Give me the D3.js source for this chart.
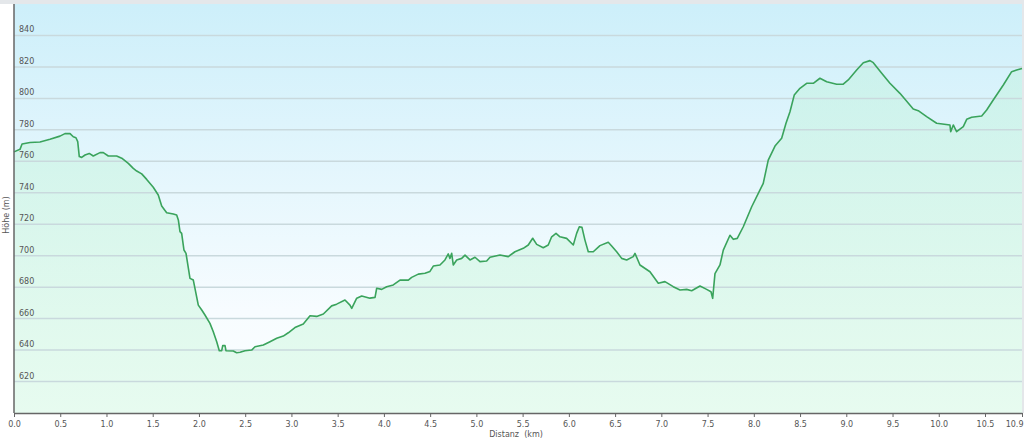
<!DOCTYPE html>
<html>
<head>
<meta charset="utf-8">
<script src="https://cdn.jsdelivr.net/npm/d3@7"></script>
<style>
  body { margin: 0; background: #fff; }
  svg text { font-family: "DejaVu Sans", Verdana, sans-serif; fill: #555; }
</style>
</head>
<body>
<div id="chart"></div>
<script>
// elevation profile
var distKm = [0.00, 0.065, 0.087, 0.173, 0.281, 0.389, 0.497, 0.551, 0.606, 0.641, 0.670, 0.689, 0.706, 0.732, 0.768, 0.814, 0.857, 0.930, 0.966, 1.020,
  1.110, 1.165, 1.236, 1.290, 1.327, 1.381, 1.435, 1.506, 1.560, 1.597, 1.651, 1.723, 1.759, 1.777, 1.795, 1.813, 1.838, 1.860, 1.903, 1.939,
  1.993, 2.030, 2.065, 2.119, 2.155, 2.192, 2.220, 2.246, 2.257, 2.282, 2.292, 2.371, 2.408, 2.444, 2.498, 2.570, 2.606, 2.696, 2.768, 2.841,
  2.912, 2.966, 3.038, 3.128, 3.201, 3.273, 3.345, 3.435, 3.489, 3.579, 3.633, 3.652, 3.706, 3.760, 3.849, 3.904, 3.922, 3.976, 4.030, 4.101,
  4.174, 4.264, 4.300, 4.372, 4.444, 4.498, 4.534, 4.606, 4.660, 4.696, 4.714, 4.733, 4.750, 4.787, 4.841, 4.877, 4.931, 4.985, 5.039, 5.111,
  5.147, 5.255, 5.345, 5.417, 5.507, 5.561, 5.609, 5.652, 5.723, 5.777, 5.814, 5.861, 5.904, 5.976, 6.048, 6.084, 6.113, 6.142, 6.174, 6.210,
  6.264, 6.336, 6.426, 6.463, 6.517, 6.571, 6.625, 6.696, 6.715, 6.769, 6.877, 6.967, 7.039, 7.129, 7.202, 7.274, 7.328, 7.418, 7.490, 7.537,
  7.555, 7.580, 7.634, 7.670, 7.742, 7.778, 7.821, 7.886, 7.977, 8.067, 8.102, 8.156, 8.229, 8.301, 8.348, 8.391, 8.437, 8.499, 8.571, 8.643,
  8.715, 8.788, 8.896, 8.967, 9.021, 9.112, 9.184, 9.256, 9.292, 9.383, 9.472, 9.580, 9.724, 9.778, 9.869, 9.977, 10.121, 10.129, 10.157, 10.193,
  10.265, 10.302, 10.356, 10.464, 10.518, 10.589, 10.698, 10.788, 10.842, 10.90];

var heightM = [766, 767.6, 771, 772, 772.3, 774, 776, 777.6, 777.6, 775.6, 775, 772.5, 763, 762.5, 764, 765, 763.4, 765.5, 765.5, 763.4,
  763.4, 762, 758.7, 755.5, 753.8, 752, 748.5, 743.5, 738.6, 731.6, 727.3, 726.5, 725.9, 722.7, 715.3, 714.2, 703.6, 701.5, 685.6, 684.5,
  668.6, 665.5, 662.3, 657, 651.7, 645.3, 639.6, 639.6, 642.8, 642.8, 639.6, 639.4, 638.3, 638.6, 639.6, 640, 642.1, 643.2, 645.3, 647.5,
  648.9, 651, 654.3, 656.6, 661.8, 661.4, 662.9, 668.1, 669.2, 671.8, 668.6, 666.5, 673, 674.4, 673, 673.5, 679.3, 678.6, 680.3, 681.4,
  684.5, 684.5, 686.2, 688.3, 688.8, 690, 693.4, 694.1, 697.3, 701.1, 698.3, 701.5, 694.1, 697.3, 698.3, 700.4, 697.3, 699, 696.2, 696.6,
  699, 700.4, 699.4, 702.5, 704.7, 706.8, 711.1, 707.2, 705.1, 706.8, 712, 714.2, 712, 711, 706.8, 714.2, 718.4, 718, 709.9, 702.5,
  702.5, 706.4, 708.5, 706.2, 702.5, 698.3, 697.3, 699.4, 701.5, 694.1, 689.8, 682.5, 683.5, 680.3, 678.2, 678.6, 677.7, 680.7, 678.6, 677.1,
  672.9, 688.6, 694.1, 703.5, 713, 710.4, 711, 718.4, 731.1, 741.8, 746, 760.8, 769.7, 774.6, 784.2, 791.5, 802.1, 806.4, 809.6, 809.6,
  812.8, 810.6, 809, 809, 811.7, 818, 822.7, 824, 822.7, 816, 809.6, 803.2, 793.2, 792.2, 788.4, 784.2, 783.1, 778.8, 783.1, 778.8,
  782, 786.7, 788, 788.8, 792.6, 799, 808.5, 817, 818, 819];

var yTicks = [620, 640, 660, 680, 700, 720, 740, 760, 780, 800, 820, 840];
var xTicks = [0, 0.5, 1, 1.5, 2, 2.5, 3, 3.5, 4, 4.5, 5, 5.5, 6, 6.5, 7, 7.5, 8, 8.5, 9, 9.5, 10, 10.5, 10.9];

var svgWidth = 1024, svgHeight = 443;
var margin = { top: 4, right: 2, bottom: 30, left: 14 };
var width = svgWidth - margin.left - margin.right;
var height = svgHeight - margin.top - margin.bottom;

var svg = d3.select("#chart").append("svg")
  .attr("width", svgWidth)
  .attr("height", svgHeight);

var defs = svg.append("defs");
var bgGrad = defs.append("linearGradient").attr("id", "bg").attr("x1", 0).attr("y1", 0).attr("x2", 0).attr("y2", 1);
bgGrad.append("stop").attr("offset", "0%").attr("stop-color", "#cdeffa");
bgGrad.append("stop").attr("offset", "75%").attr("stop-color", "#f7fcff");
bgGrad.append("stop").attr("offset", "100%").attr("stop-color", "#fbfeff");

var areaGrad = defs.append("linearGradient").attr("id", "areaFill")
  .attr("gradientUnits", "userSpaceOnUse").attr("x1", 0).attr("y1", 0).attr("x2", 0).attr("y2", height);
areaGrad.append("stop").attr("offset", "0%").attr("stop-color", "#b8f0d8").attr("stop-opacity", 0.35);
areaGrad.append("stop").attr("offset", "100%").attr("stop-color", "#e6fbef").attr("stop-opacity", 0.95);

// grey frame strip at the top / right
svg.append("rect").attr("x", 0).attr("y", 0).attr("width", svgWidth).attr("height", margin.top).attr("fill", "#e4e7ea");
svg.append("rect").attr("x", svgWidth - margin.right).attr("y", 0).attr("width", margin.right).attr("height", margin.top + height).attr("fill", "#e4e7ea");

var chartGroup = svg.append("g")
  .attr("transform", `translate(${margin.left}, ${margin.top})`);

var xScale = d3.scaleLinear().domain([0, 10.9]).range([0, width]);
var yScale = d3.scaleLinear().domain([600, 860]).range([height, 0]);

chartGroup.append("rect")
  .attr("width", width)
  .attr("height", height)
  .attr("fill", "url(#bg)");

var profile = distKm.map(function(d, i) { return { km: d, h: heightM[i] }; });

var area = d3.area()
  .x(d => xScale(d.km))
  .y0(height)
  .y1(d => yScale(d.h));

chartGroup.append("path")
  .datum(profile)
  .attr("d", area)
  .attr("fill", "url(#areaFill)");

// gridlines
chartGroup.selectAll(".grid")
  .data(yTicks)
  .enter()
  .append("line")
  .attr("x1", 0)
  .attr("x2", width)
  .attr("y1", d => yScale(d))
  .attr("y2", d => yScale(d))
  .attr("stroke", "#c9d9dd")
  .attr("stroke-width", 1.5);

chartGroup.selectAll(".ylab")
  .data(yTicks)
  .enter()
  .append("text")
  .attr("x", 5)
  .attr("y", d => yScale(d) - 3)
  .style("font-size", "8px")
  .text(d => d);

var line = d3.line()
  .x(d => xScale(d.km))
  .y(d => yScale(d.h));

chartGroup.append("path")
  .datum(profile)
  .attr("d", line)
  .attr("fill", "none")
  .attr("stroke", "#3aa35c")
  .attr("stroke-width", 1.6)
  .attr("stroke-linejoin", "round");

// axes
var bottomAxis = d3.axisBottom(xScale)
  .tickValues(xTicks)
  .tickFormat(d3.format(".1f"))
  .tickSize(4)
  .tickSizeOuter(0);

var xAxis = chartGroup.append("g")
  .attr("transform", `translate(0, ${height})`)
  .call(bottomAxis);
xAxis.select(".domain").attr("stroke", "#666").attr("stroke-width", 1.5);
xAxis.selectAll(".tick line").attr("stroke", "#666");
xAxis.selectAll(".tick text").attr("dy", "0.9em").style("font-size", "8px").style("font-family", "'DejaVu Sans', Verdana, sans-serif").attr("fill", "#555");
// last label (10.9) sits left of its tick so it stays inside the picture
xAxis.selectAll(".tick text").filter(d => d === 10.9).attr("text-anchor", "end").attr("dx", 1);

chartGroup.append("line")
  .attr("x1", 0).attr("x2", 0)
  .attr("y1", 0).attr("y2", height)
  .attr("stroke", "#666")
  .attr("stroke-width", 1.5);

chartGroup.append("text")
  .attr("transform", "rotate(-90)")
  .attr("x", 0 - 211)
  .attr("y", -5)
  .attr("text-anchor", "middle")
  .style("font-size", "8px")
  .text("Höhe (m)");

chartGroup.append("text")
  .attr("x", 502)
  .attr("y", height + 24)
  .attr("text-anchor", "middle")
  .style("font-size", "8px")
  .style("white-space", "pre")
  .text("Distanz  (km)");
</script>
</body>
</html>
